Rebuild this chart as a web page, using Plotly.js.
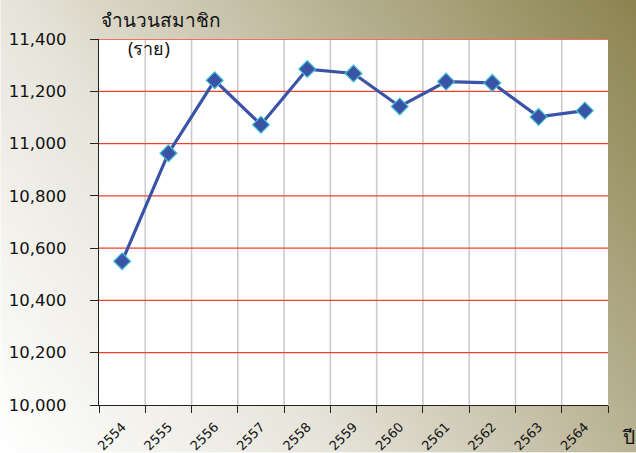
<!DOCTYPE html>
<html>
<head>
<meta charset="utf-8">
<script src="https://cdn.plot.ly/plotly-3.0.1.min.js"></script>
<style>
  html, body { margin: 0; padding: 0; background: #ffffff; }
  #chart { width: 636px; height: 453px; }
</style>
</head>
<body>
<div id="chart"></div>
<script>
const years = ["2554","2555","2556","2557","2558","2559","2560","2561","2562","2563","2564"];
const members = [10550, 10963, 11242, 11072, 11285, 11268, 11142, 11237, 11232, 11102, 11126];
const yTicks = [10000, 10200, 10400, 10600, 10800, 11000, 11200, 11400];
const yTickLabels = ["10,000","10,200","10,400","10,600","10,800","11,000","11,200","11,400"];

const font = "Verdana, 'DejaVu Sans', Tahoma, sans-serif";
const thaiFont = "Tahoma, 'Noto Sans', sans-serif";

const gradSvg = '<svg xmlns="http://www.w3.org/2000/svg" width="636" height="453">' +
  '<defs><linearGradient id="g" x1="0" y1="453" x2="636" y2="0" gradientUnits="userSpaceOnUse">' +
  '<stop offset="0" stop-color="#ffffff"/><stop offset="0.35" stop-color="#e6e4da"/>' +
  '<stop offset="0.7" stop-color="#b5ae8d"/><stop offset="1" stop-color="#8b834e"/>' +
  '</linearGradient></defs><rect width="636" height="453" fill="url(#g)"/></svg>';
const gradUri = "data:image/svg+xml;base64," + btoa(gradSvg);

const trace = {
  type: "scatter",
  mode: "lines+markers",
  x: years,
  y: members,
  line: { color: "#3a53a6", width: 3.2 },
  marker: { symbol: "diamond", size: 13, color: "#3a53a6", line: { color: "#44c3d2", width: 1.2 } },
  cliponaxis: false,
  hoverinfo: "x+y"
};

// horizontal red grid lines at the y tick values
const hGrid = yTicks.slice(1).map(v => ({
  type: "line", xref: "paper", yref: "y", x0: 0, x1: 1, y0: v, y1: v,
  line: { color: "#f0402f", width: 1.3 }, layer: "between"
}));
// vertical grey grid lines at the boundaries between year categories
const vGrid = years.slice(1).map((_, i) => ({
  type: "line", xref: "x", yref: "paper", x0: i + 0.5, x1: i + 0.5, y0: 0, y1: 1,
  line: { color: "#cbcbcb", width: 1.6 }, layer: "between"
}));

const layout = {
  width: 636, height: 453,
  margin: { l: 98.7, r: 28.3, t: 39.3, b: 47.6 },
  paper_bgcolor: "#ffffff",
  plot_bgcolor: "#ffffff",
  showlegend: false,
  images: [{
    source: gradUri, xref: "paper", yref: "paper",
    x: -98.7 / 509, y: 1 + 39.3 / 366.1,
    sizex: 636 / 509, sizey: 453 / 366.1,
    xanchor: "left", yanchor: "top", sizing: "stretch", layer: "below"
  }],
  shapes: [{
    type: "rect", xref: "paper", yref: "paper", x0: 0, x1: 1, y0: 0, y1: 1,
    fillcolor: "#ffffff", line: { width: 0 }, layer: "below"
  }].concat(vGrid, hGrid),
  xaxis: {
    type: "category",
    tickson: "boundaries",
    showgrid: false,
    showline: true, linecolor: "#222222", linewidth: 1.2,
    ticks: "outside", ticklen: 7, tickcolor: "#222222",
    tickangle: -45,
    ticklabelstandoff: 8,
    tickfont: { family: font, size: 13, color: "#111111" },
    zeroline: false,
    range: [-0.5, 10.5]
  },
  yaxis: {
    range: [10000, 11400],
    tickvals: yTicks, ticktext: yTickLabels,
    showgrid: false,
    showline: true, linecolor: "#222222", linewidth: 1.2,
    ticks: "outside", ticklen: 8, tickcolor: "#222222",
    ticklabelstandoff: 20,
    tickfont: { family: font, size: 16.5, color: "#111111" },
    zeroline: false
  },
  annotations: [
    { text: "จำนวนสมาชิก", xref: "paper", yref: "paper", x: 0.0, y: 1.052, xanchor: "left", yanchor: "middle", showarrow: false, font: { family: thaiFont, size: 19, color: "#111111" } },
    { text: "(ราย)", xref: "paper", yref: "paper", x: 0.054, y: 0.976, xanchor: "left", yanchor: "middle", showarrow: false, font: { family: thaiFont, size: 18, color: "#111111" } },
    { text: "ปี", xref: "paper", yref: "paper", x: 1.024, y: -0.087, xanchor: "left", yanchor: "middle", showarrow: false, font: { family: thaiFont, size: 19, color: "#111111" } }
  ]
};

Plotly.newPlot("chart", [trace], layout, { displayModeBar: false, staticPlot: true });
</script>
</body>
</html>
